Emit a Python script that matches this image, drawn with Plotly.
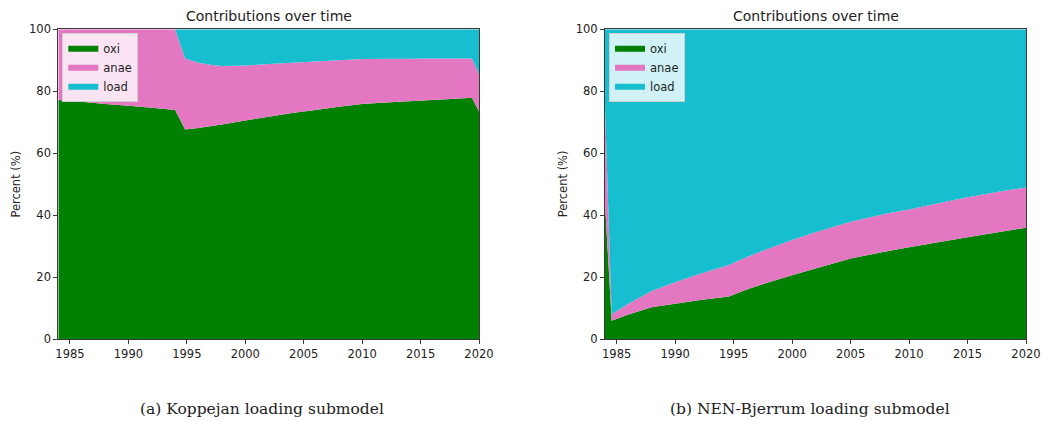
import plotly.graph_objects as go

# Koppejan loading submodel: share of each process (%) per year
years_kop = [1984, 1986, 1988, 1990, 1992, 1994, 1994.85, 1996, 1997, 1998, 2000, 2002,
             2004, 2006, 2008, 2010, 2012, 2014, 2016, 2018, 2019.4, 2020]
oxi_kop = [77.2, 76.6, 75.9, 75.3, 74.7, 74.0, 67.7, 68.2, 68.7, 69.3, 70.6, 71.8,
           73.0, 74.0, 75.0, 75.9, 76.4, 76.8, 77.2, 77.6, 77.9, 73.5]
anae_kop = [22.8, 23.4, 24.1, 24.7, 25.3, 26.0, 22.9, 21.0, 19.9, 18.9, 17.7, 17.0,
            16.2, 15.6, 15.0, 14.5, 14.1, 13.7, 13.4, 13.0, 12.7, 12.0]
load_kop = [0.0, 0.0, 0.0, 0.0, 0.0, 0.0, 9.4, 10.8, 11.4, 11.8, 11.7, 11.2,
            10.8, 10.4, 10.0, 9.6, 9.5, 9.5, 9.4, 9.4, 9.4, 14.5]

# NEN-Bjerrum loading submodel
years_nen = [1984, 1984.57, 1986, 1988, 1990, 1992, 1994.6, 1996, 1998, 2000, 2002,
             2005, 2008, 2010, 2012, 2015, 2018, 2020]
oxi_nen = [44.0, 6.0, 8.0, 10.3, 11.5, 12.6, 13.8, 15.9, 18.4, 20.7, 22.8,
           26.1, 28.3, 29.7, 31.0, 32.9, 34.8, 36.0]
anae_nen = [31.0, 2.1, 3.5, 5.3, 6.9, 8.4, 10.2, 10.4, 10.9, 11.3, 11.7,
            11.8, 12.2, 12.2, 12.5, 12.9, 13.0, 13.0]
load_nen = [25.0, 91.9, 88.5, 84.4, 81.6, 79.0, 76.0, 73.7, 70.7, 68.0, 65.5,
            62.1, 59.5, 58.1, 56.5, 54.2, 52.2, 51.0]

series_names = ["oxi", "anae", "load"]
colors = {"oxi": "#008000", "anae": "#e377c2", "load": "#17becf"}

panel_title = "Contributions over time"
y_title = "Percent (%)"
captions = ["(a) Koppejan loading submodel", "(b) NEN-Bjerrum loading submodel"]
x_ticks = [1985, 1990, 1995, 2000, 2005, 2010, 2015, 2020]
y_ticks = [0, 20, 40, 60, 80, 100]

W, H = 1043, 421
# fixed outer margins; all positions below are converted into the inner area
ML, MR, MT, MB = 20, 17, 20, 40
PW, PH = W - ML - MR, H - MT - MB


def px_x(px):
    return (px - ML) / PW


def px_y(py):
    return (H - MB - py) / PH


fig = go.Figure()

panels = [
    ("x", "y", "legend", years_kop, [oxi_kop, anae_kop, load_kop]),
    ("x2", "y2", "legend2", years_nen, [oxi_nen, anae_nen, load_nen]),
]
for i, (xa, ya, leg, xs, stacks) in enumerate(panels):
    for name, vals in zip(series_names, stacks):
        fig.add_trace(go.Scatter(
            x=xs, y=vals, name=name, mode="none",
            stackgroup=f"s{i}", fillcolor=colors[name],
            xaxis=xa, yaxis=ya, legend=leg, hoverinfo="skip",
        ))

# plot-area geometry in pixels
ytop, ybot = 29.3, 339.3
areas = [(58.3, 479.0), (605.0, 1026.0)]
caption_centers = [262, 809.5]

axis_common = dict(
    showline=True, linecolor="#3a3a3a", linewidth=1, mirror=True,
    ticks="outside", ticklen=4, tickwidth=1, tickcolor="#3a3a3a",
    showgrid=False, zeroline=False, automargin=False,
    tickfont=dict(family="DejaVu Sans", size=11.5, color="#222"),
)

layout = dict(
    width=W, height=H, autosize=False,
    margin=dict(l=ML, r=MR, t=MT, b=MB, autoexpand=False),
    paper_bgcolor="white", plot_bgcolor="white",
    showlegend=True,
)
for i, (x0, x1) in enumerate(areas):
    sfx = "" if i == 0 else "2"
    layout[f"xaxis{sfx}"] = dict(
        domain=[px_x(x0), px_x(x1)], range=[1984, 2020],
        tickvals=x_ticks, anchor=f"y{sfx}", **axis_common)
    layout[f"yaxis{sfx}"] = dict(
        domain=[px_y(ybot), px_y(ytop)], range=[0, 100],
        tickvals=y_ticks, anchor=f"x{sfx}", **axis_common)
    layout[f"legend{sfx}"] = dict(
        x=px_x(x0 + 4), y=px_y(ytop + 4), xanchor="left", yanchor="top",
        xref="paper", yref="paper",
        bgcolor="rgba(255,255,255,0.8)", bordercolor="#d0d0d0", borderwidth=1,
        font=dict(family="DejaVu Sans", size=11.5, color="#222"),
        traceorder="normal", tracegroupgap=0,
    )
fig.update_layout(**layout)

for i, (x0, x1) in enumerate(areas):
    cx = (x0 + x1) / 2
    fig.add_annotation(text=panel_title, x=px_x(cx), y=px_y(16), xref="paper", yref="paper",
                       showarrow=False, xanchor="center", yanchor="middle",
                       font=dict(family="DejaVu Sans", size=14, color="#222"))
    fig.add_annotation(text=y_title, x=px_x(x0 - 42), y=px_y((ytop + ybot) / 2),
                       xref="paper", yref="paper", textangle=-90,
                       showarrow=False, xanchor="center", yanchor="middle",
                       font=dict(family="DejaVu Sans", size=11.5, color="#222"))
    fig.add_annotation(text=captions[i], x=px_x(caption_centers[i]), y=px_y(409),
                       xref="paper", yref="paper",
                       showarrow=False, xanchor="center", yanchor="middle",
                       font=dict(family="DejaVu Serif", size=15.5, color="#222"))

fig.write_html("out.html")
